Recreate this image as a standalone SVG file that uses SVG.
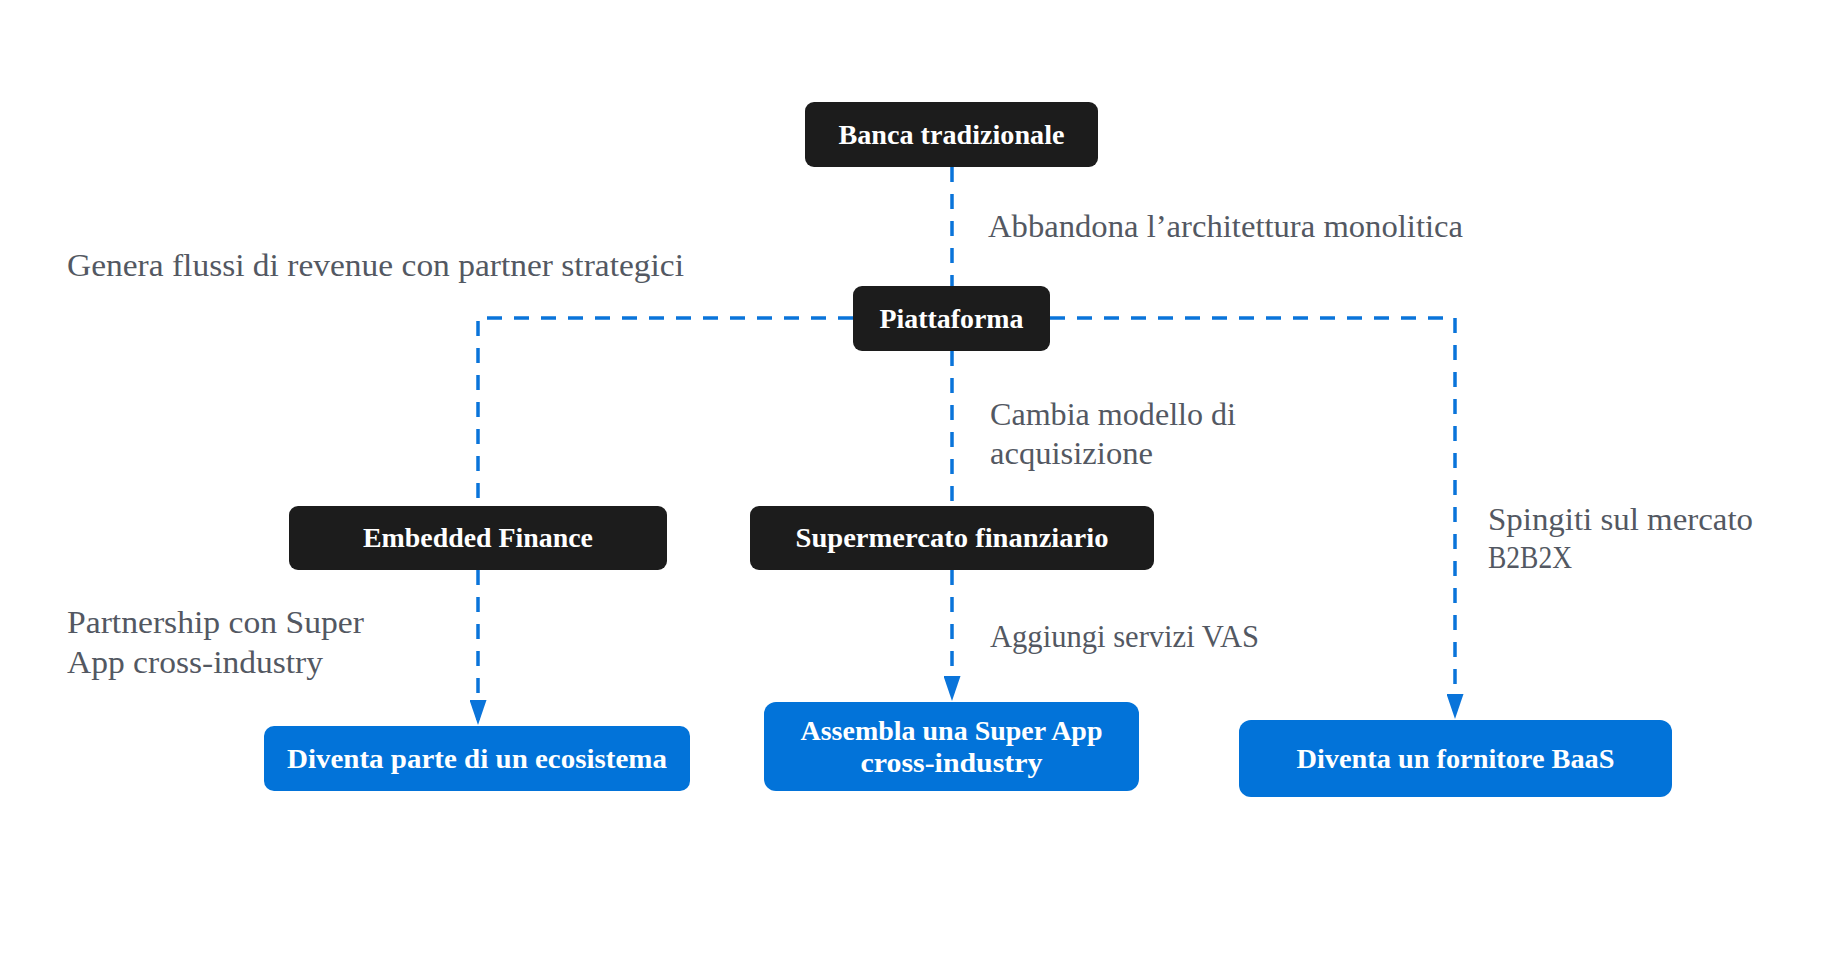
<svg xmlns="http://www.w3.org/2000/svg" width="1840" height="963" viewBox="0 0 1840 963">
<defs>
<style>
.dark{fill:#1c1c1c;}
.blue{fill:#0273d9;}
.nt{font-family:"Liberation Serif","DejaVu Serif",serif;font-weight:bold;font-size:27px;fill:#ffffff;text-anchor:middle;}
.lbl{font-family:"Liberation Serif","DejaVu Serif",serif;font-size:31px;fill:#535862;}
.edge{fill:none;stroke:#0a74da;stroke-width:3.5;stroke-dasharray:15 12;}
</style>
<marker id="arrd" viewBox="0 0 17 25" refX="8.5" refY="25" markerWidth="17" markerHeight="25" markerUnits="userSpaceOnUse" orient="0">
<path d="M0,0 L17,0 L8.5,25 Z" fill="#0a74da"/>
</marker>
</defs>
<rect width="1840" height="963" fill="#ffffff"/>
<g id="connectors">
<path class="edge" d="M952,167 L952,286"/>
<path class="edge" d="M853,318 L478,318 L478,506"/>
<path class="edge" d="M952,351 L952,506"/>
<path class="edge" d="M1050,318 L1455,318 L1455,719" marker-end="url(#arrd)"/>
<path class="edge" d="M478,570 L478,725" marker-end="url(#arrd)"/>
<path class="edge" d="M952,570 L952,701" marker-end="url(#arrd)"/>
</g>
<g id="labels">
<text class="lbl" x="988" y="237" textLength="475" lengthAdjust="spacingAndGlyphs">Abbandona l’architettura monolitica</text>
<text class="lbl" x="67" y="276" textLength="617" lengthAdjust="spacingAndGlyphs">Genera flussi di revenue con partner strategici</text>
<text class="lbl" x="990" y="425" textLength="246" lengthAdjust="spacingAndGlyphs">Cambia modello di</text>
<text class="lbl" x="990" y="464" textLength="163" lengthAdjust="spacingAndGlyphs">acquisizione</text>
<text class="lbl" x="1488" y="530" textLength="265" lengthAdjust="spacingAndGlyphs">Spingiti sul mercato</text>
<text class="lbl" x="1488" y="568" textLength="84" lengthAdjust="spacingAndGlyphs">B2B2X</text>
<text class="lbl" x="67" y="633" textLength="297" lengthAdjust="spacingAndGlyphs">Partnership con Super</text>
<text class="lbl" x="67" y="673" textLength="256" lengthAdjust="spacingAndGlyphs">App cross-industry</text>
<text class="lbl" x="990" y="647" textLength="269" lengthAdjust="spacingAndGlyphs">Aggiungi servizi VAS</text>
</g>
<g id="n-banca">
<rect class="dark" x="805" y="102" width="293" height="65" rx="9"/>
<text class="nt" x="951.5" y="144" textLength="226" lengthAdjust="spacingAndGlyphs">Banca tradizionale</text>
</g>
<g id="n-piattaforma">
<rect class="dark" x="853" y="286" width="197" height="65" rx="9"/>
<text class="nt" x="951.5" y="328" textLength="144" lengthAdjust="spacingAndGlyphs">Piattaforma</text>
</g>
<g id="n-embedded">
<rect class="dark" x="289" y="506" width="378" height="64" rx="9"/>
<text class="nt" x="478" y="547" textLength="230" lengthAdjust="spacingAndGlyphs">Embedded Finance</text>
</g>
<g id="n-supermercato">
<rect class="dark" x="750" y="506" width="404" height="64" rx="9"/>
<text class="nt" x="952" y="547" textLength="313" lengthAdjust="spacingAndGlyphs">Supermercato finanziario</text>
</g>
<g id="n-ecosistema">
<rect class="blue" x="264" y="726" width="426" height="65" rx="10"/>
<text class="nt" x="477" y="768" textLength="380" lengthAdjust="spacingAndGlyphs">Diventa parte di un ecosistema</text>
</g>
<g id="n-superapp">
<rect class="blue" x="764" y="702" width="375" height="89" rx="12"/>
<text class="nt" x="951.5" y="740" textLength="302" lengthAdjust="spacingAndGlyphs">Assembla una Super App</text>
<text class="nt" x="951.5" y="772" textLength="182" lengthAdjust="spacingAndGlyphs">cross-industry</text>
</g>
<g id="n-baas">
<rect class="blue" x="1239" y="720" width="433" height="77" rx="12"/>
<text class="nt" x="1455.5" y="768" textLength="318" lengthAdjust="spacingAndGlyphs">Diventa un fornitore BaaS</text>
</g>
</svg>
